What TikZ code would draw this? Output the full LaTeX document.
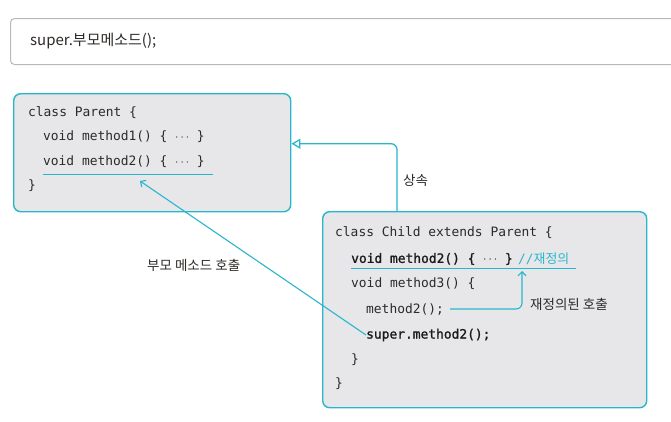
\documentclass[tikz,border=0pt]{standalone}
\usepackage{fontspec}
\setmainfont{Noto Sans CJK KR}
\newfontfamily\krfont{Noto Sans CJK KR}
\newfontfamily\codefont{DejaVu Sans Mono}
\newfontfamily\codebold[FakeBold=1.2]{DejaVu Sans Mono}
\usetikzlibrary{arrows.meta,positioning}
\definecolor{javacyan}{RGB}{40,182,205}
\definecolor{boxgray}{RGB}{231,231,233}
\definecolor{inkgray}{RGB}{45,42,40}
\tikzset{
  classbox/.style={draw=javacyan, line width=1.4pt, fill=boxgray, rounded corners=7pt, anchor=north west, inner sep=0pt},
  codeline/.style={anchor=west, inner sep=0pt, font=\codefont\fontsize{12.9}{15}\selectfont, text=inkgray},
  boldline/.style={codeline, font=\codebold\fontsize{12.9}{15}\selectfont, text=black!90},
  korlabel/.style={anchor=west, inner sep=0pt, font=\krfont\fontsize{13.5}{15}\selectfont, text=inkgray},
  uline/.style={javacyan, line width=1pt},
  callarrow/.style={javacyan, line width=1.1pt, -{Straight Barb[length=4pt,width=8pt]}}
}
\begin{document}
\begin{tikzpicture}[x=1pt,y=-1pt]
    \useasboundingbox (0,0) rectangle (671,421);
    % syntax box on top
    \node[draw=gray!55, line width=1pt, fill=white, rounded corners=4pt, anchor=north west,
          minimum width=700pt, minimum height=46pt] (topbox) at (10,18) {};
    \node[korlabel, font=\krfont\fontsize{15}{17}\selectfont] (syntax) at (30,41) {super.부모메소드();};

    % parent class
    \node[classbox, minimum width=277pt, minimum height=118pt] (parent) at (13,93) {};
    \node[codeline] (pcls) at (28,113) {class Parent \{};
    \node[codeline] (pm1) at (43,137) {void method1() \{ $\cdots$ \}};
    \node[codeline] (pm2) at (43,162) {void method2() \{ $\cdots$ \}};
    \node[codeline] (pend) at (28,186) {\}};
    \draw[uline] ([yshift=-6pt]pm2.south west) -- ([yshift=-6pt,xshift=8pt]pm2.south east);
    \coordinate (ptip) at (140,181);

    % child class
    \node[classbox, minimum width=324pt, minimum height=196pt] (child) at (322,211) {};
    \node[codeline] (ccls) at (335,233) {class Child extends Parent \{};
    \node[boldline] (cm2) at (351,259) {void method2() \{ $\cdots$ \}};
    \node[codeline, text=javacyan, right=5pt of cm2] (cmt) {//{\krfont 재정의}};
    \node[codeline] (cm3) at (351,284) {void method3() \{};
    \node[codeline] (ccall) at (366,309) {method2();};
    \node[boldline] (csup) at (366,335) {super.method2();};
    \node[codeline] (cend1) at (351,360) {\}};
    \node[codeline] (cend2) at (335,384) {\}};
    \draw[uline] (351,268) -- (576,268);
    \coordinate (otip) at (522,271);
    \coordinate (inh) at (397,211);

    % connectors
    \draw[javacyan, line width=1.3pt, rounded corners=6pt, -{Triangle[open,length=9pt,width=10pt]}]
        (inh) |- ([yshift=9pt]parent.east);
    \node[korlabel] (inhlbl) at (403,180) {상속};
    \draw[callarrow, rounded corners=6pt] ([xshift=6pt]ccall.east) -| (otip);
    \node[korlabel] (ovrlbl) at (530,304) {재정의된 호출};
    \draw[callarrow] (csup.west) -- (ptip);
    \node[korlabel] (suplbl) at (147,265) {부모 메소드 호출};
\end{tikzpicture}
\end{document}
